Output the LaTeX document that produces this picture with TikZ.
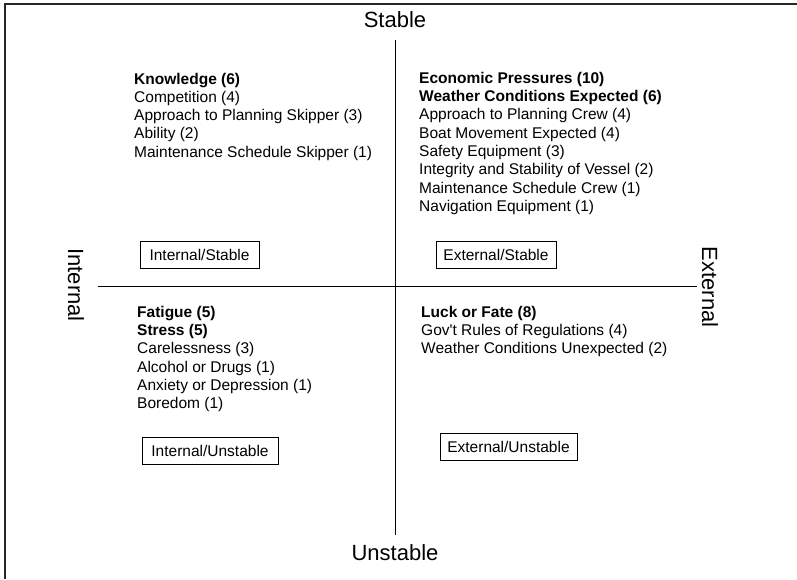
\documentclass[tikz,border=0pt]{standalone}
\usepackage{fontspec}
\setmainfont{Liberation Sans}[Ligatures=TeXOff]
\begin{document}
\begin{tikzpicture}[x=1pt,y=-1pt,
  axislabel/.style={font=\fontsize{22}{26}\selectfont, inner sep=0, anchor=base},
  item/.style={font=\fontsize{15.5}{18.3}\selectfont, inner sep=0, anchor=base west},
  catbox/.style={draw, line width=1pt, font=\fontsize{15.5}{18}\selectfont, inner sep=0, minimum height=27pt},
  axis/.style={line width=1pt},
  frame/.style={line width=2pt, draw=black!85}]
\useasboundingbox (0,0) rectangle (797,579);
\draw[frame] (5,579) -- (5,4) -- (797,4);

% axes
\coordinate (vtop) at (395,40);
\coordinate (vbot) at (395,535);
\coordinate (hleft) at (98,286);
\coordinate (hright) at (697,286);
\draw[axis] (vtop) -- (vbot);
\draw[axis] (hleft) -- (hright);

% axis labels
\node[axislabel] (stable) at (395,27) {Stable};
\node[axislabel] (unstable) at (395,560) {Unstable};
\node[axislabel, rotate=-90] (internal) at (68,285) {Internal};
\node[axislabel, rotate=-90] (external) at (702,287) {External};

% quadrant lists
\node[item] (tl) at (134,84) {\begin{tabular}[t]{@{}l@{}}
\textbf{Knowledge (6)}\\
Competition (4)\\
Approach to Planning Skipper (3)\\
Ability (2)\\
Maintenance Schedule Skipper (1)
\end{tabular}};

\node[item] (tr) at (419,83.3) {\begin{tabular}[t]{@{}l@{}}
\textbf{Economic Pressures (10)}\\
\textbf{Weather Conditions Expected (6)}\\
Approach to Planning Crew (4)\\
Boat Movement Expected (4)\\
Safety Equipment (3)\\
Integrity and Stability of Vessel (2)\\
Maintenance Schedule Crew (1)\\
Navigation Equipment (1)
\end{tabular}};

\node[item] (bl) at (137,317.3) {\begin{tabular}[t]{@{}l@{}}
\textbf{Fatigue (5)}\\
\textbf{Stress (5)}\\
Carelessness (3)\\
Alcohol or Drugs (1)\\
Anxiety or Depression (1)\\
Boredom (1)
\end{tabular}};

\node[item] (br) at (421,317.3) {\begin{tabular}[t]{@{}l@{}}
\textbf{Luck or Fate (8)}\\
Gov't Rules of Regulations (4)\\
Weather Conditions Unexpected (2)
\end{tabular}};

% category boxes
\node[catbox, minimum width=119pt] (is) at (199.5,254.5) {Internal/Stable};
\node[catbox, minimum width=120pt] (es) at (496,254.5) {External/Stable};
\node[catbox, minimum width=136pt] (iu) at (210,450.5) {Internal/Unstable};
\node[catbox, minimum width=137pt] (eu) at (508.5,446.5) {External/Unstable};
\end{tikzpicture}
\end{document}
